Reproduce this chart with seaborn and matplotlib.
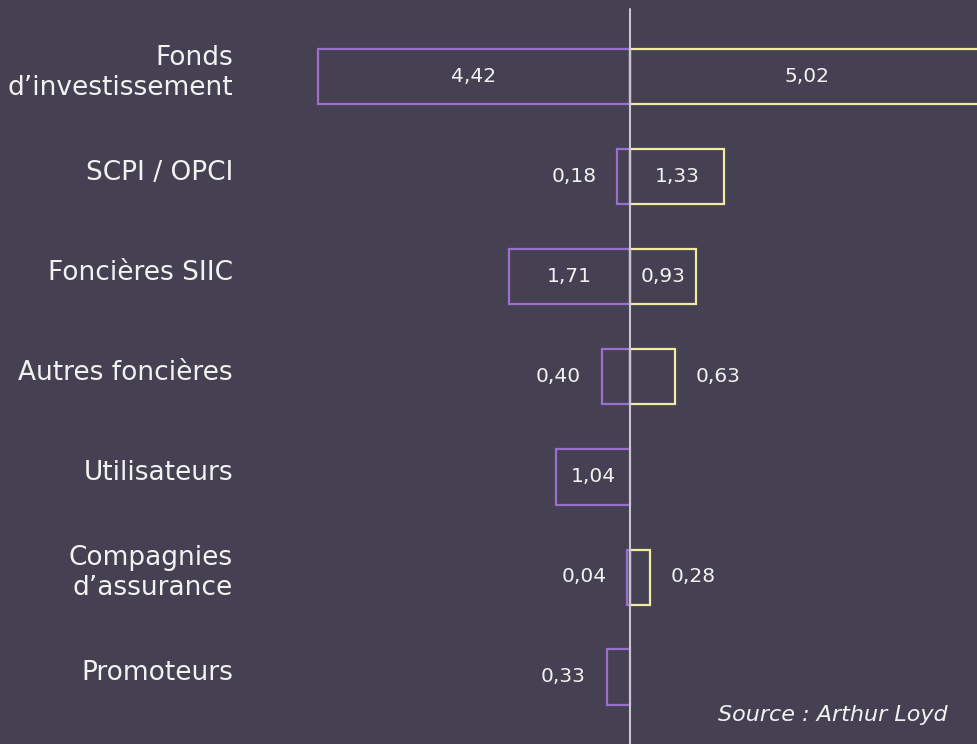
import matplotlib
matplotlib.use("Agg")
import matplotlib.pyplot as plt
import matplotlib.transforms as mtransforms
import numpy as np
import pandas as pd
import seaborn as sns

# Données (Mds €) - lecture du graphique
categories = [
    "Fonds\nd\u2019investissement",
    "SCPI / OPCI",
    "Foncières SIIC",
    "Autres foncières",
    "Utilisateurs",
    "Compagnies\nd\u2019assurance",
    "Promoteurs",
]
vendeurs = [4.42, 0.18, 1.71, 0.40, 1.04, 0.04, 0.33]      # barres violettes (gauche)
acquereurs = [5.02, 1.33, 0.93, 0.63, None, 0.28, None]    # barres jaunes (droite)

BG = "#454152"
VIOLET = "#9b6fcb"
JAUNE = "#f2eaa0"
TXT = "#f2f2f2"

rows = []
for cat, v, a in zip(categories, vendeurs, acquereurs):
    if v is not None:
        rows.append({"categorie": cat, "sens": "vendeurs", "valeur": -v})
    if a is not None:
        rows.append({"categorie": cat, "sens": "acquereurs", "valeur": a})
df = pd.DataFrame(rows)

sns.set_style("white")
plt.rcParams["font.family"] = ["DejaVu Sans"]

fig = plt.figure(figsize=(9.78, 7.44), dpi=100, facecolor=BG)
ax = fig.add_axes([0, 0, 1, 1])
ax.set_facecolor(BG)

sns.barplot(data=df, x="valeur", y="categorie", hue="sens",
            order=categories, hue_order=["vendeurs", "acquereurs"],
            palette={"vendeurs": VIOLET, "acquereurs": JAUNE},
            orient="h", dodge=False, fill=False, width=0.55,
            linewidth=1.6, errorbar=None, legend=False, ax=ax)

# échelle : 0 à 630 px, ~70.7 px par unité
ppu = 70.7
ax.set_xlim(-630 / ppu, 348 / ppu)
ax.set_ylim(6.67, -0.77)
ax.set_axis_off()

# axe central
ax.plot([0, 0], [-0.68, 6.67], color="#c9c6d4", lw=1.5, zorder=5, clip_on=False)

# étiquettes des catégories
trans = mtransforms.blended_transform_factory(ax.transAxes, ax.transData)
for i, cat in enumerate(categories):
    ax.text(233 / 978, i - 0.04, cat, transform=trans, ha="right", va="center",
            multialignment="right", fontsize=19, color=TXT, linespacing=1.22)

def fmt(v):
    return f"{v:.2f}".replace(".", ",")

# étiquettes des valeurs
for i, (v, a) in enumerate(zip(vendeurs, acquereurs)):
    if v is not None:
        if v >= 0.8:
            ax.text(-v / 2, i, fmt(v), ha="center", va="center", fontsize=14.5, color=TXT)
        else:
            ax.annotate(fmt(v), (-v, i), xytext=(-15, 0), textcoords="offset points",
                        ha="right", va="center", fontsize=14.5, color=TXT)
    if a is not None:
        if a >= 0.8:
            ax.text(a / 2, i, fmt(a), ha="center", va="center", fontsize=14.5, color=TXT)
        else:
            ax.annotate(fmt(a), (a, i), xytext=(15, 0), textcoords="offset points",
                        ha="left", va="center", fontsize=14.5, color=TXT)

fig.text(948 / 978, 1 - 715 / 744, "Source : Arthur Loyd", ha="right", va="center",
         fontsize=16, style="italic", color=TXT)

fig.savefig("out.png", dpi=100, facecolor=BG)
